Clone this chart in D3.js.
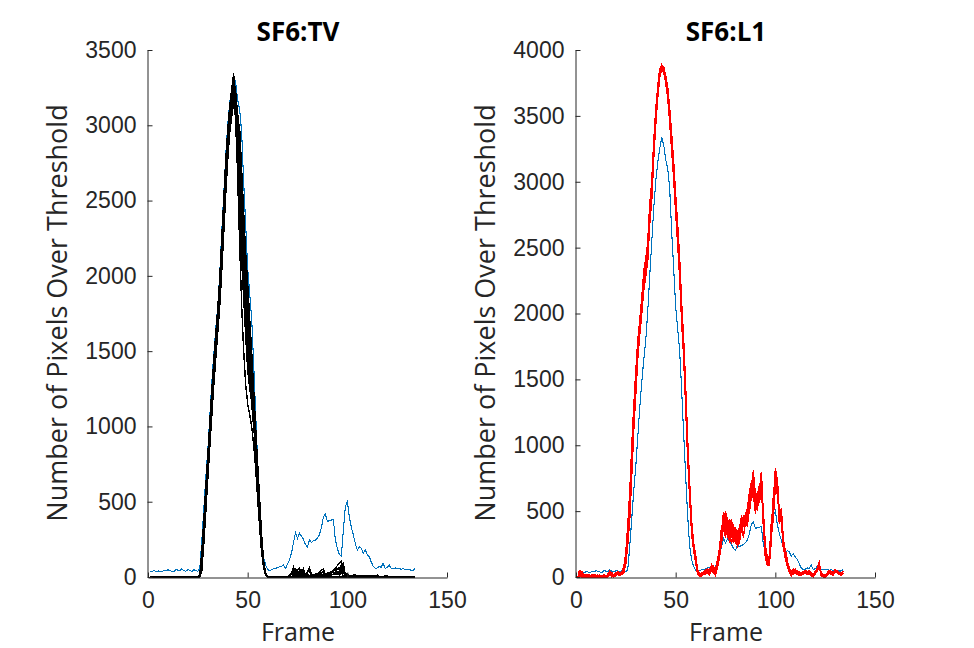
<!DOCTYPE html>
<html>
<head>
<meta charset="utf-8">
<script src="https://cdn.jsdelivr.net/npm/d3@7"></script>
<style>
  body { margin: 0; background: #fff; }
  svg { display: block; font-family: "Open Sans", "Noto Sans", sans-serif; }
  .axis path, .axis line { stroke: #262626; }
  .axis text { fill: #262626; font-size: 23px; }
</style>
</head>
<body>
<div class="chart"></div>
<script>
// frame numbers run 1..134
let firstFrame = 1

// reference curve (blue), drawn on both panels
let refCurve = [
    40,35,45,32,40,38,33,45,40,48,42,38,35,50,45,40,55,42,38,48,45,35,50,42,38,
    60,240,450,660,840,1064,1290,1480,1650,1800,2018,2290,2540,2800,3000,
    3148,3250,3336,3280,3170,3100,2950,2620,2342,2050,1885,1720,1420,1090,770,467,240,130,80,50,
    42,48,55,57,62,69,70,80,57,85,113,160,230,294,257,290,270,250,215,201,
    245,230,240,245,260,280,330,400,418,368,375,378,382,245,190,150,139,312,467,500,
    400,330,280,223,179,200,190,157,179,150,135,100,70,57,60,69,65,91,57,62,
    80,57,55,60,55,57,52,55,51,50,48,46,45,57
]

// SF6:TV runs (black), values from frame 25 to 60, zero elsewhere
let tvRunStart = 25
let tvRuns = [
    [0,10,150,370,590,800,1020,1230,1430,1610,1790,1990,2250,2510,2770,2970,3130,3240,3345, 3050,2650,2200,1800,1500,1280,1150,1080,1000,880,720,520,330,160,60,10,0],
    [0,0,60,250,460,680,890,1100,1300,1480,1660,1850,2080,2330,2590,2820,2990,3100,3200, 3120,3050,2980,2700,2420,2150,1900,1640,1420,1180,960,700,440,230,90,20,0],
    [0,20,170,380,600,810,1030,1240,1440,1620,1780,1980,2240,2490,2740,2950,3100,3210,3280, 3200,2980,2720,2450,2200,1950,1700,1400,1180,1050,900,680,450,250,100,20,0],
    [0,5,110,310,530,740,960,1170,1370,1550,1720,1910,2170,2420,2680,2900,3060,3160,3240, 3100,2850,2550,2280,2050,1850,1600,1350,1220,1120,960,720,480,260,100,25,0],
    [0,15,160,375,595,805,1025,1235,1435,1615,1785,1985,2245,2505,2760,2960,3110,3230,3310, 3220,3060,2880,2600,2300,2000,1750,1500,1250,1020,820,600,380,190,70,15,0],
    [0,0,40,220,430,650,860,1070,1270,1450,1620,1800,2030,2280,2540,2770,2950,3060,3150, 3150,3080,2900,2600,2350,2100,1850,1560,1300,1100,950,760,520,280,110,30,0],
    [0,20,170,380,600,810,1030,1240,1440,1620,1780,1980,2240,2490,2740,2950,3100,3210,3280, 3000,2700,2400,2100,1850,1600,1380,1250,1180,1100,950,740,500,270,110,20,0],
    [0,5,110,310,530,740,960,1170,1370,1550,1720,1910,2170,2420,2680,2900,3060,3160,3240, 3170,3000,2800,2500,2250,2000,1780,1520,1300,1080,880,640,420,220,80,15,0],
    [0,10,150,370,590,800,1020,1230,1430,1610,1790,1990,2250,2510,2770,2970,3130,3240,3330, 3100,2800,2450,2150,1900,1700,1500,1320,1200,1080,900,660,430,220,80,10,0],
    [0,15,160,375,595,805,1025,1235,1435,1615,1785,1985,2245,2505,2760,2960,3110,3230,3250, 3180,3020,2780,2520,2280,2050,1800,1580,1380,1150,920,660,400,200,70,10,0],
    [0,10,130,340,560,770,990,1200,1400,1580,1750,1950,2200,2460,2720,2930,3090,3200,3290, 3150,2900,2600,2300,2000,1700,1450,1280,1150,1000,850,640,420,220,80,15,0],
    [0,0,60,250,460,680,890,1100,1300,1480,1660,1850,2080,2330,2590,2820,2990,3100,3200, 3100,3000,2850,2620,2380,2150,1950,1720,1500,1250,1000,740,470,240,90,20,0],
    [0,0,40,220,430,650,860,1070,1270,1450,1620,1800,2030,2280,2540,2770,2950,3060,3150, 3080,2950,2750,2450,2150,1880,1620,1380,1180,1020,880,690,480,270,110,25,0],
    [0,10,130,340,560,770,990,1200,1400,1580,1750,1950,2200,2460,2720,2930,3090,3200,3290, 3200,3050,2850,2580,2320,2080,1850,1620,1400,1200,990,720,460,230,80,15,0]
]

// small late bumps of the black runs, [frame, value]
let tvBumps = [
    [[70,0],[72,25],[73,66],[74,15],[75,45],[76,60],[77,25],[78,55],[79,5],[81,60],[82,15],[83,0],[88,55],[89,10],[90,0],[97,106],[98,60],[99,20],[100,0],[115,12],[116,0],[120,8],[121,0]],
    [[71,0],[73,40],[74,55],[75,20],[77,45],[78,10],[80,35],[81,50],[82,0],[87,30],[88,40],[89,0],[96,30],[97,85],[98,40],[99,0]],
    [[72,0],[74,50],[75,10],[76,40],[77,0],[81,45],[82,0],[86,20],[87,0],[97,70],[98,90],[99,10],[100,0]],
    [[73,0],[74,30],[75,0],[78,35],[79,0],[84,15],[85,0],[97,60],[98,0],[104,15],[105,0]],
    [[75,0],[76,25],[77,0],[88,30],[89,0],[98,45],[99,0],[108,10],[109,0]],
    [],
    [[79,0],[80,20],[81,0],[97,40],[98,0]],
    [],
    [[74,0],[75,20],[76,0],[100,25],[101,0]],
    [],
    [[76,0],[77,30],[78,0],[96,0],[97,55],[98,0]],
    [],
    [[73,0],[74,20],[75,0],[89,0],[90,25],[91,0]],
    []
]

// SF6:L1 runs (red), frames 1..134
let l1Runs = [
    [30,50,10,0,0,20,0,0,10,0,0,0,0,5,0,20,40,10,0,30,40,
     20,30,60,150,330,560,900,1230,1480,1740,1900,2060,2250,2340,2450,2750,2930,3250,3500,3680,3830,3890,3860,3780,3680,3505,3300,3080,2830,2610,2342,2010,1740,1380,980,673,380,230,142,40,15,
     20,30,40,50,30,78,50,28,100,180,300,496,432,430,380,357,340,300,256,330,432,400,450,483,600,685,812,559,580,609,774,432,180,104,110,350,483,825,736,432,500,260,180,104,60,28,40,50,30,25,
     20,30,40,35,40,20,10,30,60,104,20,10,0,20,40,30,20,50,40,30,20,40],
    [0,10,30,0,10,0,0,15,0,0,10,0,0,0,10,0,20,30,0,10,20,
     10,20,40,110,270,480,820,1150,1420,1690,1860,2020,2200,2300,2420,2700,2880,3200,3450,3650,3800,3860,3840,3760,3650,3470,3260,3040,2790,2560,2300,1970,1700,1330,940,630,350,210,120,30,5,
     10,20,30,45,20,60,40,10,80,150,260,380,300,440,260,400,290,360,230,300,400,300,420,380,560,640,600,520,540,700,720,400,150,90,90,310,450,680,700,400,460,230,150,80,40,10,30,40,20,15,
     10,25,30,20,30,10,0,20,50,80,10,0,0,15,30,20,10,40,30,20,10,30],
    [20,40,0,10,0,10,5,0,0,10,0,0,10,0,0,15,30,0,10,25,30,
     30,40,80,180,380,620,960,1280,1530,1780,1930,2100,2300,2400,2500,2800,2970,3290,3530,3700,3850,3880,3870,3800,3700,3530,3330,3120,2870,2650,2380,2050,1780,1420,1020,700,410,250,160,50,20,
     30,40,50,60,40,90,60,40,120,200,330,470,360,450,300,380,260,320,280,360,460,420,480,520,640,720,700,600,620,650,800,470,210,120,130,380,520,700,760,470,520,290,200,120,70,35,50,60,40,30,
     30,40,50,40,50,30,20,40,70,110,30,20,10,30,50,40,30,55,45,35,25,45],
    [10,30,20,0,0,15,0,10,0,0,5,0,0,10,0,10,35,20,0,20,35,
     15,25,50,130,300,530,870,1200,1460,1720,1890,2040,2230,2330,2440,2730,2910,3230,3480,3670,3820,3880,3850,3770,3670,3490,3280,3060,2810,2590,2320,1990,1720,1360,960,650,370,220,130,35,10,
     15,25,35,50,25,70,45,20,90,170,280,440,380,410,350,420,310,280,240,310,410,390,440,470,580,660,720,540,560,600,660,420,170,100,100,330,470,810,720,420,480,250,170,90,50,20,35,45,25,20,
     15,25,35,30,35,15,5,25,55,95,15,5,0,20,35,25,15,45,35,25,15,35],
    [40,20,0,5,0,0,10,0,5,0,0,10,0,0,5,20,45,15,0,25,30,
     25,35,70,170,360,600,930,1260,1500,1760,1920,2080,2280,2380,2480,2780,2950,3270,3510,3690,3840,3870,3860,3790,3690,3520,3320,3100,2850,2630,2360,2030,1760,1400,1000,690,400,240,150,45,20,
     25,35,45,55,35,85,55,35,110,190,320,360,500,420,360,440,320,290,350,340,440,420,470,500,620,700,780,590,600,640,780,450,200,110,120,370,500,790,750,450,510,270,190,110,65,30,45,55,35,25,
     25,35,45,40,45,25,15,35,65,100,25,15,5,25,45,35,25,50,40,30,20,40],
    [0,0,20,10,0,10,0,0,0,15,0,0,5,0,0,0,25,35,5,15,25,
     15,25,55,140,320,550,890,1220,1470,1730,1900,2050,2240,2360,2460,2740,2920,3240,3490,3680,3830,3885,3855,3775,3675,3500,3290,3070,2820,2600,2330,2000,1730,1370,970,660,375,225,135,38,12,
     20,30,40,50,30,75,50,25,95,175,290,380,450,300,370,250,330,290,250,320,420,410,440,480,590,670,740,560,570,620,700,440,190,100,110,340,480,770,730,440,490,255,175,100,55,25,40,50,30,25,
     20,30,40,35,40,20,10,30,60,90,20,10,0,20,40,30,20,50,40,30,20,40],
    [20,10,0,0,10,0,0,5,0,0,0,15,0,0,0,10,30,25,0,15,35,
     20,30,65,160,345,580,920,1240,1490,1750,1910,2070,2260,2350,2460,2760,2940,3260,3510,3690,3840,3880,3865,3785,3685,3510,3310,3090,2840,2620,2350,2020,1750,1390,990,680,390,235,145,42,15,
     15,25,45,55,35,80,45,30,105,185,310,420,410,440,360,330,400,270,240,320,420,395,460,490,610,690,790,570,590,620,740,430,185,105,105,360,490,820,740,440,500,265,185,105,60,25,45,50,30,20,
     20,30,40,35,40,20,10,30,60,100,20,10,0,20,40,30,20,50,40,30,20,40],
    [30,45,10,0,5,0,15,0,0,5,0,0,0,10,5,15,35,15,5,25,40,
     25,35,65,165,350,590,940,1250,1500,1760,1920,2070,2270,2370,2470,2770,2950,3270,3520,3700,3850,3890,3860,3790,3690,3515,3315,3095,2845,2625,2355,2025,1755,1395,995,685,395,240,150,45,18,
     25,30,40,55,30,70,55,30,100,175,300,460,420,420,390,370,350,310,260,330,430,410,450,490,600,680,810,570,580,610,770,440,190,110,110,350,480,815,735,440,500,260,180,100,60,30,40,50,30,25,
     25,30,45,35,40,20,10,30,55,100,20,10,0,20,40,30,20,50,40,30,20,40],
    [10,20,40,20,0,0,5,20,0,0,15,0,0,5,10,0,30,20,10,35,25,
     20,30,70,190,400,650,1000,1300,1560,1800,1950,2120,2320,2420,2540,2830,3000,3300,3550,3720,3860,3880,3850,3810,3720,3560,3360,3150,2900,2680,2420,2080,1810,1450,1050,720,430,260,170,55,25,
     10,30,20,40,60,50,30,60,130,220,380,420,340,380,440,300,360,250,300,380,350,460,380,430,520,600,690,480,650,560,690,380,140,120,160,420,560,740,620,480,420,300,140,90,70,40,20,40,50,30,
     30,20,50,30,20,30,15,40,50,90,30,20,10,30,45,30,40,45,50,35,30,45],
    [0,30,20,0,20,10,0,0,20,5,0,0,0,20,0,25,45,10,0,20,30,
     10,20,35,100,250,450,780,1120,1390,1660,1840,2000,2180,2280,2400,2680,2860,3180,3430,3640,3790,3850,3830,3750,3640,3450,3240,3020,2770,2530,2270,1940,1670,1300,910,610,330,200,110,25,5,
     30,20,50,30,20,60,80,40,70,160,250,400,470,350,400,340,280,380,290,260,390,450,400,520,480,640,760,640,500,680,600,500,240,150,90,280,620,760,660,520,430,220,210,130,50,40,60,30,20,40,
     15,20,30,40,30,25,5,35,45,80,25,0,5,25,30,20,30,40,30,20,30,35]
]

let xTicks = [0, 50, 100, 150]
let tvTicks = [0, 500, 1000, 1500, 2000, 2500, 3000, 3500]
let l1Ticks = [0, 500, 1000, 1500, 2000, 2500, 3000, 3500, 4000]

let colors = {
    ref: "#0072bd",
    tv: "#000000",
    l1: "#ff0000",
    axis: "#262626"
}

const width = 974
const height = 648

const svg = d3.select('.chart')
    .append('svg')
    .attr('width', width)
    .attr('height', height)

svg.append('rect')
    .attr('width', width)
    .attr('height', height)
    .attr('fill', '#fff')

// turn a value list into [frame, value] points
function toPoints(values, start) {
    return values.map((v, i) => [start + i, v])
}

function tvPoints(i) {
    let pts = [[firstFrame, 0], [tvRunStart - 1, 0]]
    pts = pts.concat(toPoints(tvRuns[i], tvRunStart))
    pts = pts.concat(tvBumps[i])
    pts.push([firstFrame + refCurve.length - 1, 0])
    return pts
}

function drawPanel(opts) {
    const xScale = d3.scaleLinear()
        .domain([0, 150])
        .range([opts.left, opts.left + 299])

    const yScale = d3.scaleLinear()
        .domain([0, opts.yMax])
        .range([577, 50])

    const g = svg.append('g')

    const line = d3.line()
        .x(d => xScale(d[0]))
        .y(d => yScale(d[1]))

    // matlab draws these without smoothing
    const lines = g.append('g')
        .attr('fill', 'none')
        .attr('shape-rendering', 'crispEdges')

    lines.append('path')
        .datum(toPoints(refCurve, firstFrame))
        .attr('stroke', colors.ref)
        .attr('stroke-width', 1.1)
        .attr('d', line)

    lines.selectAll('.run')
        .data(opts.runs)
        .join('path')
        .attr('class', 'run')
        .attr('stroke', opts.color)
        .attr('stroke-width', 1.4)
        .attr('d', line)

    // axes
    const xAxis = d3.axisBottom(xScale)
        .tickValues(xTicks)
        .tickFormat(d3.format('d'))
        .tickSizeInner(-5)
        .tickSizeOuter(0)
        .tickPadding(14)

    g.append('g')
        .attr('class', 'x axis')
        .attr('transform', 'translate(0,577.5)')
        .call(xAxis)

    const yAxis = d3.axisLeft(yScale)
        .tickValues(opts.ticks)
        .tickFormat(d3.format('d'))
        .tickSizeInner(-5)
        .tickSizeOuter(0)
        .tickPadding(11)

    g.append('g')
        .attr('class', 'y axis')
        .attr('transform', `translate(${opts.left - 0.5},0)`)
        .call(yAxis)

    g.selectAll('.axis .domain')
        .attr('stroke-width', 1)

    // title
    g.append('text')
        .attr('x', opts.left + 150)
        .attr('y', 41)
        .attr('text-anchor', 'middle')
        .attr('font-size', '26px')
        .attr('font-weight', 'bold')
        .attr('fill', '#000')
        .text(opts.title)

    // axis labels
    g.append('text')
        .attr('x', opts.left + 150)
        .attr('y', 641)
        .attr('text-anchor', 'middle')
        .attr('font-size', '25px')
        .attr('fill', colors.axis)
        .text('Frame')

    g.append('text')
        .attr('transform', `translate(${opts.left - 81},313) rotate(-90)`)
        .attr('text-anchor', 'middle')
        .attr('font-size', '27px')
        .attr('fill', colors.axis)
        .text('Number of Pixels Over Threshold')
}

drawPanel({
    left: 148,
    yMax: 3500,
    ticks: tvTicks,
    title: 'SF6:TV',
    color: colors.tv,
    runs: tvRuns.map((r, i) => tvPoints(i))
})

drawPanel({
    left: 576,
    yMax: 4000,
    ticks: l1Ticks,
    title: 'SF6:L1',
    color: colors.l1,
    runs: l1Runs.map(r => toPoints(r, firstFrame))
})
</script>
</body>
</html>
